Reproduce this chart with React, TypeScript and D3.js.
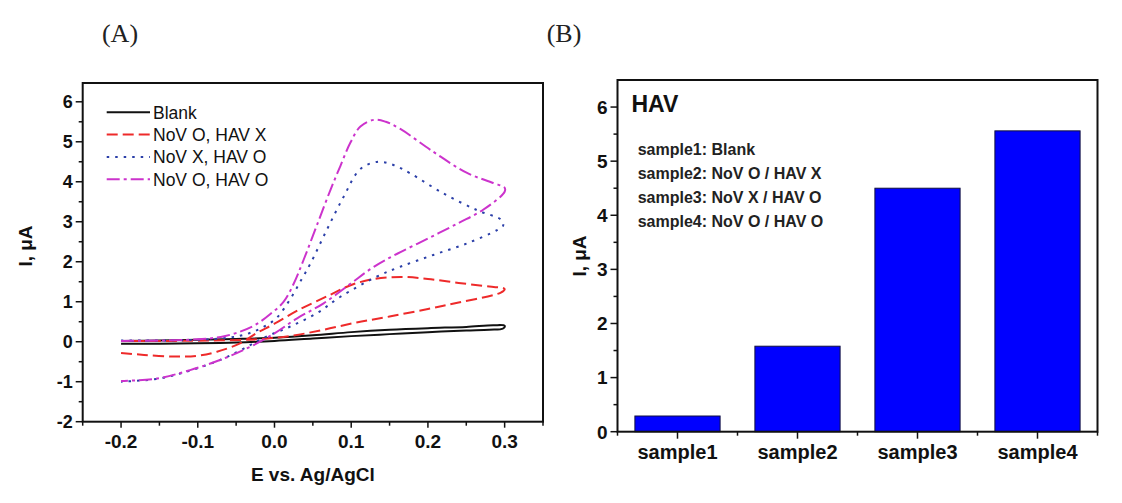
import React from "react";
import * as d3 from "d3";

// ---------- Data (panel A: cyclic voltammograms, [E (V), I (uA)]) ----------
const blankCurve: [number, number][] = [
  [-0.2, 0.02], [-0.15, 0.03], [-0.1, 0.05], [-0.05, 0.07], [0.0, 0.1], [0.05, 0.16],
  [0.1, 0.24], [0.15, 0.3], [0.2, 0.34], [0.25, 0.37], [0.285, 0.41], [0.3, 0.4],
  [0.298, 0.33], [0.28, 0.3], [0.25, 0.28], [0.2, 0.24], [0.15, 0.19], [0.1, 0.14],
  [0.05, 0.08], [0.0, 0.02], [-0.05, -0.02], [-0.1, -0.04], [-0.15, -0.05], [-0.2, -0.05],
];

const novOHavX: [number, number][] = [
  [-0.2, -0.28], [-0.17, -0.33], [-0.13, -0.37], [-0.1, -0.35], [-0.075, -0.25], [-0.045, -0.04],
  [-0.023, 0.22], [0.0, 0.45], [0.03, 0.78], [0.07, 1.15], [0.1, 1.42], [0.13, 1.57],
  [0.165, 1.62], [0.2, 1.57], [0.24, 1.47], [0.28, 1.38], [0.3, 1.32], [0.295, 1.23],
  [0.24, 0.98], [0.2, 0.82], [0.15, 0.63], [0.107, 0.48], [0.064, 0.3], [0.02, 0.14],
  [-0.023, 0.06], [-0.08, 0.03], [-0.14, 0.02], [-0.2, 0.02],
];

const novXHavO: [number, number][] = [
  [-0.2, 0.03], [-0.15, 0.03], [-0.1, 0.05], [-0.06, 0.1], [-0.035, 0.2], [-0.015, 0.36],
  [0.003, 0.6], [0.02, 1.05], [0.035, 1.55], [0.047, 1.96], [0.068, 2.79], [0.09, 3.62],
  [0.112, 4.32], [0.135, 4.5], [0.155, 4.42], [0.177, 4.21], [0.22, 3.71], [0.264, 3.29],
  [0.296, 3.04], [0.298, 2.9], [0.29, 2.79], [0.251, 2.46], [0.207, 2.17], [0.164, 1.875],
  [0.133, 1.625], [0.086, 1.125], [0.055, 0.71], [0.02, 0.375], [-0.014, 0.1],
  [-0.04, -0.17], [-0.07, -0.45], [-0.11, -0.72], [-0.15, -0.92], [-0.2, -1.0],
];

const novOHavO: [number, number][] = [
  [-0.2, 0.02], [-0.15, 0.03], [-0.1, 0.06], [-0.07, 0.12], [-0.045, 0.25], [-0.025, 0.42],
  [-0.005, 0.7], [0.012, 1.0], [0.025, 1.45], [0.038, 2.05], [0.057, 3.0], [0.073, 3.8],
  [0.086, 4.4], [0.099, 4.98], [0.112, 5.38], [0.13, 5.55], [0.145, 5.5], [0.164, 5.32],
  [0.207, 4.75], [0.251, 4.22], [0.285, 3.97], [0.3, 3.85], [0.3, 3.75], [0.272, 3.3],
  [0.24, 2.97], [0.2, 2.58], [0.16, 2.2], [0.13, 1.88], [0.099, 1.45], [0.064, 0.96],
  [0.029, 0.58], [0.0, 0.21], [-0.032, -0.13], [-0.066, -0.42], [-0.11, -0.71],
  [-0.153, -0.92], [-0.2, -0.98],
];

const seriesNamesA = ["Blank", "NoV O, HAV X", "NoV X, HAV O", "NoV O, HAV O"];
const xTicksA = [-0.2, -0.1, 0.0, 0.1, 0.2, 0.3];
const yTicksA = [-2, -1, 0, 1, 2, 3, 4, 5, 6];

// ---------- Data (panel B: bar chart) ----------
const barCategories = ["sample1", "sample2", "sample3", "sample4"];
const barValues = [0.29, 1.58, 4.5, 5.56];
const yTicksB = [0, 1, 2, 3, 4, 5, 6];
const legendLinesB = [
  "sample1: Blank",
  "sample2: NoV O / HAV X",
  "sample3: NoV X / HAV O",
  "sample4: NoV O / HAV O",
];

// ---------- Styles ----------
const FONT = "'Liberation Sans', Arial, Helvetica, sans-serif";
const curveStyles = [
  { color: "#111111", dash: "none", width: 2 },
  { color: "#ee2a2a", dash: "11,5", width: 2 },
  { color: "#2b3fa8", dash: "2.5,6", width: 2 },
  { color: "#cc33cc", dash: "13,4,3,4", width: 2 },
];

export default function App() {
  // Panel A scales
  const xA = d3.scaleLinear().domain([-0.25, 0.35]).range([82.7, 543]);
  const yA = d3.scaleLinear().domain([-2, 6.47]).range([421.7, 83]);
  const lineA = d3
    .line<[number, number]>()
    .x((d) => xA(d[0]))
    .y((d) => yA(d[1]))
    .curve(d3.curveCatmullRom.alpha(0.5));
  const curves = [blankCurve, novOHavX, novXHavO, novOHavO];
  const xMinorA = d3.range(-0.25, 0.351, 0.05).map((v) => +v.toFixed(3));
  const yMinorA = d3.range(-2, 6.01, 0.5);

  // Panel B scales
  const xB = d3
    .scaleBand<string>()
    .domain(barCategories)
    .range([617.5, 1097.5])
    .paddingInner(0.29)
    .paddingOuter(0.145);
  const yB = d3.scaleLinear().domain([0, 6.5]).range([431.7, 80]);
  const stepB = xB.step();
  const bandEdges = barCategories.map((c) => (xB(c) as number) - (stepB - xB.bandwidth()) / 2);
  bandEdges.push(bandEdges[bandEdges.length - 1] + stepB);
  const yMinorB = d3.range(0, 6.01, 0.5);

  const [ax0, ax1] = xA.range();
  const [ay0, ay1] = [yA.range()[1], yA.range()[0]];
  const [bx0, bx1] = xB.range();
  const [by0, by1] = [yB.range()[1], yB.range()[0]];

  const tickColor = "#111";
  const serif = "'Liberation Serif', 'DejaVu Serif', serif";

  return (
    <svg
      width={1122}
      height={503}
      style={{ position: "absolute", left: 0, top: 0, background: "#fff" }}
      fontFamily={FONT}
    >
      <rect x={0} y={0} width={1122} height={503} fill="#fff" />
      {/* Panel labels */}
      <text x={120} y={42} textAnchor="middle" fontFamily={serif} fontSize={26} fill="#222">
        (A)
      </text>
      <text x={564} y={42} textAnchor="middle" fontFamily={serif} fontSize={26} fill="#222">
        (B)
      </text>

      {/* ================= Panel A ================= */}
      <g>
        {curves.map((c, i) => (
          <path
            key={i}
            d={lineA(c) || ""}
            fill="none"
            stroke={curveStyles[i].color}
            strokeWidth={curveStyles[i].width}
            strokeDasharray={curveStyles[i].dash}
            strokeLinejoin="round"
          />
        ))}
        <rect x={ax0} y={ay0} width={ax1 - ax0} height={ay1 - ay0} fill="none" stroke={tickColor} strokeWidth={2} />
        {yMinorA.map((v) => (
          <line key={"ym" + v} x1={ax0} x2={ax0 - (Number.isInteger(v) ? 7 : 4)} y1={yA(v)} y2={yA(v)} stroke={tickColor} strokeWidth={1.5} />
        ))}
        {yTicksA.map((v) => (
          <text key={"yl" + v} x={ax0 - 10} y={yA(v)} dy="0.36em" textAnchor="end" fontSize={18} fontWeight="bold" fill={tickColor}>
            {v}
          </text>
        ))}
        {xMinorA.map((v, i) => (
          <line key={"xm" + i} x1={xA(v)} x2={xA(v)} y1={ay1} y2={ay1 + (i % 2 === 1 ? 6 : 4)} stroke={tickColor} strokeWidth={1.5} />
        ))}
        {xTicksA.map((v) => (
          <text key={"xl" + v} x={xA(v)} y={448} textAnchor="middle" fontSize={19} fontWeight="bold" fill={tickColor}>
            {v.toFixed(1)}
          </text>
        ))}
        <text x={(ax0 + ax1) / 2} y={481} textAnchor="middle" fontSize={19} fontWeight="bold" fill={tickColor}>
          E vs. Ag/AgCl
        </text>
        <text transform={`translate(25,246) rotate(-90)`} textAnchor="middle" dy="0.36em" fontSize={19} fontWeight="bold" fill={tickColor}>
          I, μA
        </text>
        {seriesNamesA.map((name, i) => {
          const yy = 112.3 + i * 22.3;
          return (
            <g key={name}>
              <line x1={106.7} x2={150} y1={yy} y2={yy} stroke={curveStyles[i].color} strokeWidth={curveStyles[i].width} strokeDasharray={curveStyles[i].dash} />
              <text x={153} y={yy} dy="0.36em" fontSize={17.5} fill="#111">
                {name}
              </text>
            </g>
          );
        })}
      </g>

      {/* ================= Panel B ================= */}
      <g>
        {barCategories.map((c, i) => (
          <rect
            key={c}
            x={xB(c)}
            y={yB(barValues[i])}
            width={xB.bandwidth()}
            height={yB(0) - yB(barValues[i])}
            fill="#0000ff"
            stroke="#101040"
            strokeWidth={1}
          />
        ))}
        <rect x={bx0} y={by0} width={bx1 - bx0} height={by1 - by0} fill="none" stroke={tickColor} strokeWidth={2} />
        {yMinorB.map((v) => (
          <line key={"bym" + v} x1={bx0} x2={bx0 - (Number.isInteger(v) ? 7 : 4)} y1={yB(v)} y2={yB(v)} stroke={tickColor} strokeWidth={1.5} />
        ))}
        {yTicksB.map((v) => (
          <text key={"byl" + v} x={bx0 - 10} y={yB(v)} dy="0.36em" textAnchor="end" fontSize={19} fontWeight="bold" fill={tickColor}>
            {v}
          </text>
        ))}
        {bandEdges.map((e, i) => (
          <line key={"bxe" + i} x1={e} x2={e} y1={by1} y2={by1 + 4} stroke={tickColor} strokeWidth={1.5} />
        ))}
        {barCategories.map((c) => {
          const cx = (xB(c) as number) + xB.bandwidth() / 2;
          return (
            <g key={"bx" + c}>
              <line x1={cx} x2={cx} y1={by1} y2={by1 + 7} stroke={tickColor} strokeWidth={1.5} />
              <text x={cx} y={459} textAnchor="middle" fontSize={20} fontWeight="bold" fill={tickColor}>
                {c}
              </text>
            </g>
          );
        })}
        <text transform={`translate(579,256) rotate(-90)`} textAnchor="middle" dy="0.36em" fontSize={19} fontWeight="bold" fill={tickColor}>
          I, μA
        </text>
        <text x={631.5} y={111.5} fontSize={23} fontWeight="bold" fill={tickColor}>
          HAV
        </text>
        {legendLinesB.map((t, i) => (
          <text key={t} x={637.7} y={154.8 + i * 24.2} fontSize={16} fontWeight="bold" fill="#222">
            {t}
          </text>
        ))}
      </g>
    </svg>
  );
}
